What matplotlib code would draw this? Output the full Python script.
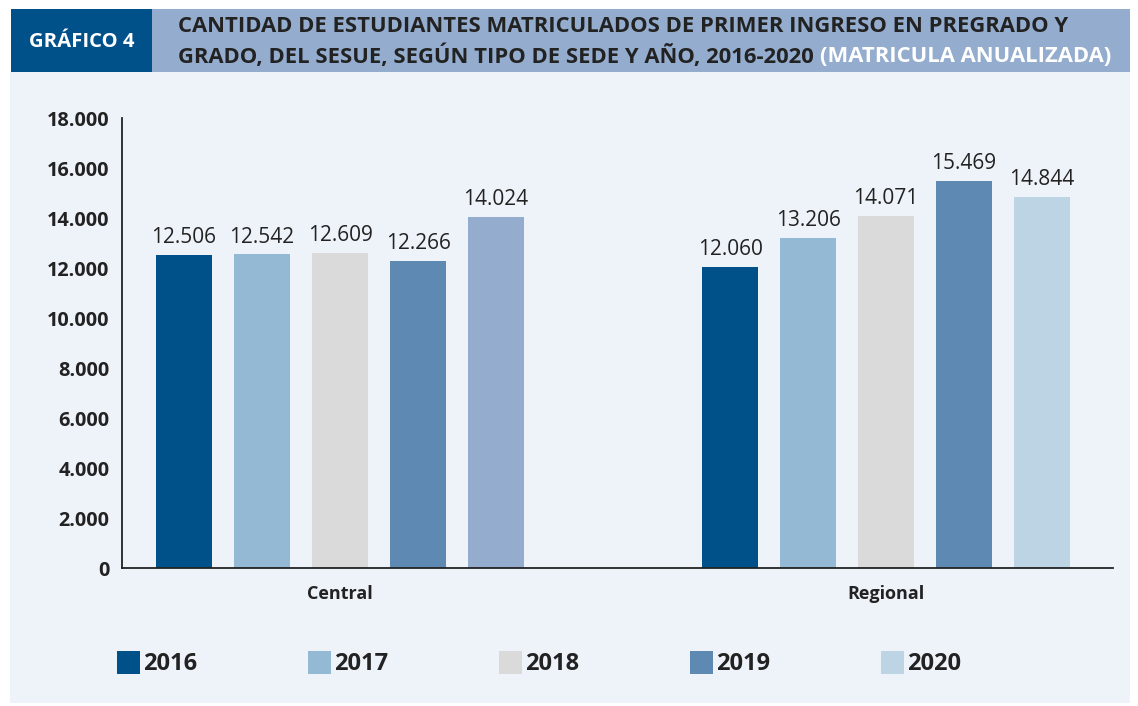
import matplotlib
matplotlib.use("Agg")
import matplotlib.pyplot as plt
from matplotlib.patches import Rectangle, Patch
from matplotlib.ticker import FuncFormatter

# Data
sedes = ['Central', 'Regional']
years = ['2016', '2017', '2018', '2019', '2020']
central = [12506, 12542, 12609, 12266, 14024]
regional = [12060, 13206, 14071, 15469, 14844]

year_colors = ['#00508A', '#93B9D4', '#DADADA', '#5D89B3', '#BDD4E4']
central_2020_color = '#94ACCD'

panel_color = '#EEF3FA'
header_dark = '#00508A'
header_light = '#94ACCD'
text_color = '#222222'

W, H = 1138, 706
plt.rcParams['font.family'] = ['Open Sans', 'DejaVu Sans']

fig = plt.figure(figsize=(W / 100, H / 100), dpi=100)
fig.patch.set_facecolor('white')


def fx(px):
    return px / W


def fy(py):
    return 1 - py / H


# Background panel and header boxes
fig.patches.append(Rectangle((fx(10), fy(703)), fx(1130 - 10), (703 - 72) / H,
                             transform=fig.transFigure, facecolor=panel_color,
                             edgecolor='none', zorder=-5))
fig.patches.append(Rectangle((fx(11), fy(72)), fx(152 - 11), 63 / H,
                             transform=fig.transFigure, facecolor=header_dark,
                             edgecolor='none', zorder=-5))
fig.patches.append(Rectangle((fx(152), fy(72)), fx(1130 - 152), 63 / H,
                             transform=fig.transFigure, facecolor=header_light,
                             edgecolor='none', zorder=-5))

fig.text(fx(82), fy(42), 'GRÁFICO 4', color='white', fontsize=14.6,
         fontweight='bold', ha='center', va='center')

title1 = 'CANTIDAD DE ESTUDIANTES MATRICULADOS DE PRIMER INGRESO EN PREGRADO Y'
title2a = 'GRADO, DEL SESUE, SEGÚN TIPO DE SEDE Y AÑO, 2016-2020 '
title2b = '(MATRICULA ANUALIZADA)'
t1 = fig.text(fx(178), fy(27), title1, color=text_color, fontsize=15.8,
              fontweight='bold', ha='left', va='center')
t2 = fig.text(fx(178), fy(56), title2a, color=text_color, fontsize=15.8,
              fontweight='bold', ha='left', va='center')
fig.canvas.draw()
r = fig.canvas.get_renderer()
bb = t2.get_window_extent(r)
fig.text(bb.x1 / W, fy(56), title2b, color='white', fontsize=15.8,
         fontweight='bold', ha='left', va='center')

# Axes
ax = fig.add_axes([fx(122), fy(568), fx(1113 - 122), (568 - 118) / H])
ax.set_facecolor('none')

width = 0.72
offsets = [0, 7]
for g, vals in enumerate([central, regional]):
    for i, v in enumerate(vals):
        c = year_colors[i]
        if g == 0 and i == 4:
            c = central_2020_color
        bars = ax.bar(offsets[g] + i, v, width=width, color=c, zorder=2)
        ax.bar_label(bars, labels=[f'{v:,}'.replace(',', '.')], padding=5,
                     fontsize=15, color=text_color)

ax.set_ylim(0, 18000)
ax.set_yticks(range(0, 18001, 2000))
ax.yaxis.set_major_formatter(FuncFormatter(lambda v, p: f'{int(v):,}'.replace(',', '.')))
ax.set_xlim(-0.795, 11.91)
ax.set_xticks([offsets[0] + 2, offsets[1] + 2])
ax.set_xticklabels(sedes)
ax.tick_params(axis='both', length=0, labelcolor=text_color)
ax.tick_params(axis='y', pad=9, labelsize=14.3)
ax.tick_params(axis='x', pad=12, labelsize=13)
for lab in ax.get_xticklabels() + ax.get_yticklabels():
    lab.set_fontweight('bold')
for s in ['top', 'right']:
    ax.spines[s].set_visible(False)
for s in ['left', 'bottom']:
    ax.spines[s].set_color('#222222')
    ax.spines[s].set_linewidth(1.3)

# Legend
handles = [Patch(facecolor=c, edgecolor='none') for c in year_colors]
leg = fig.legend(handles, years, loc='upper left',
                 bbox_to_anchor=(fx(117), fy(651)), ncol=5, frameon=False,
                 prop={'weight': 'bold', 'size': 17}, borderpad=0,
                 borderaxespad=0, handlelength=0.97, handleheight=1.1,
                 handletextpad=0.13, columnspacing=4.7)
for t in leg.get_texts():
    t.set_color(text_color)

fig.savefig('out.png', dpi=100)
